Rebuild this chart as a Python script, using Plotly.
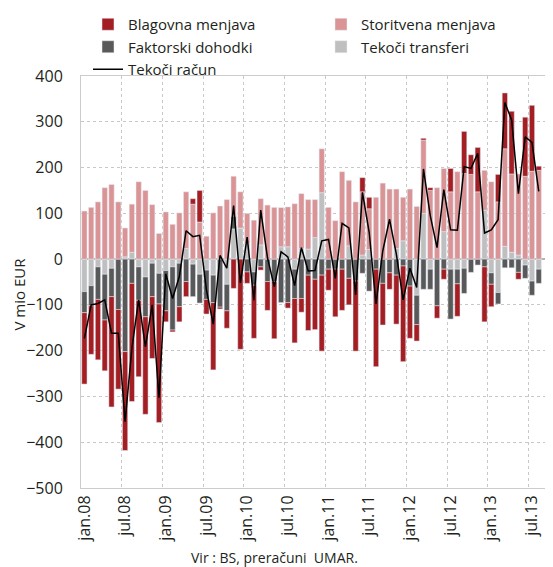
import plotly.graph_objects as go

month_names = ["jan", "feb", "mar", "apr", "maj", "jun", "jul", "avg", "sep", "okt", "nov", "dec"]
months = [f"{m}.{y:02d}" for y in range(8, 14) for m in month_names][:68]

tick_labels = ["jan.08", "jul.08", "jan.09", "jul.09", "jan.10", "jul.10",
               "jan.11", "jul.11", "jan.12", "jul.12", "jan.13", "jul.13"]

blagovna = [-156, -106, -132, -111, -241, -174, -216, -258, -167, -213, -135, -259,
            -24, -4, -33, -33, 12, 69, -32, -147, -4, -38, -64, -197,
            -25, -116, -7, -63, -125, 0, -12, -97, -30, -121, -110, -166,
            -46, -104, -90, -58, -153, 31, 25, -213, -91, -36, -107, -209,
            -114, -36, 4, 6, -27, -22, 51, -71, 92, 43, 97, -120,
            -49, 60, 122, 137, -15, 129, 144, 9]

storitvena = [105, 113, 125, 156, 163, 125, 63, 105, 169, 150, 119, 56,
              103, 76, 101, 124, 120, 81, 50, 101, 116, 130, 87, 79,
              66, 85, 101, 118, 113, 86, 87, 121, 120, 108, 83, 96,
              113, 84, 191, 143, 125, 138, 89, 135, 166, 153, 130, 95,
              153, 115, 160, 150, 156, 138, 147, 191, 187, 185, 147, 87,
              169, 125, 213, 171, 177, 181, 192, 194]

faktorski = [-46, -44, -71, -100, -62, -110, -202, -53, -73, -87, -73, -67,
             -88, -138, -95, -49, -71, -63, -64, -60, -105, -58, 28, 0,
             -28, -29, -17, -49, -49, -95, -95, -64, -86, -35, -44, -35,
             -22, -22, -22, -42, -48, -31, -70, -22, -53, -30, -35, -15,
             -59, -64, -66, -44, -102, -22, -109, -32, -55, -29, -13, -17,
             -25, -25, -19, -19, -29, -29, -31, -31]

transferi = [-71, -58, -17, -33, -20, 0, 5, 15, -17, -39, -9, -31,
             -25, -17, -9, 23, -11, -33, -24, -35, 0, -55, 66, 68,
             34, -28, 31, 0, 0, 27, 27, -22, 23, 22, 47, 145,
             0, 0, 0, 29, 0, 9, 21, 0, 0, 0, 23, 40,
             0, -79, 100, -22, 0, 60, -22, -22, -20, 0, 0, 107,
             -30, -73, 28, 15, 9, -13, -48, -22]

tekoci_racun = [-173, -100, -97, -89, -162, -162, -355, -195, -89, -191, -100, -303,
                -32, -86, -38, 62, 49, 52, -68, -142, 8, -20, 117, -52,
                48, -90, 107, 3, -60, 16, 5, -58, 25, -26, -25, 40,
                43, -42, 78, 68, -78, 146, 58, -98, 18, 87, 11, -89,
                -20, -62, 197, 95, 25, 152, 64, 63, 202, 198, 231, 57,
                64, 86, 342, 304, 143, 267, 255, 148]

x = list(range(len(months)))
tick_pos = [x[i] for i in range(0, len(x), 6)]
grid_pos = [p + 5.5 for p in tick_pos]

FONT = "Open Sans"
TXT = "#231f20"
FS = 16

# page body has an 8px default margin, so the figure is 8px smaller each way
W, H = 545, 559

fig = go.Figure()
fig.add_trace(go.Bar(x=x, y=transferi, name="Tekoči transferi", marker_color="#bfbfbf",
                     legend="legend2", legendrank=2, customdata=months))
fig.add_trace(go.Bar(x=x, y=faktorski, name="Faktorski dohodki", marker_color="#595959",
                     legend="legend", legendrank=2))
fig.add_trace(go.Bar(x=x, y=storitvena, name="Storitvena menjava", marker_color="#da9495",
                     legend="legend2", legendrank=1))
fig.add_trace(go.Bar(x=x, y=blagovna, name="Blagovna menjava", marker_color="#a31f24",
                     legend="legend", legendrank=1))
fig.add_trace(go.Scatter(x=x, y=tekoci_racun, name="Tekoči račun", mode="lines",
                         line=dict(color="black", width=1.5), legend="legend", legendrank=3))

legend_common = dict(font=dict(family=FONT, size=15, color=TXT), bgcolor="rgba(0,0,0,0)",
                     orientation="v", xanchor="left", yanchor="top", tracegroupgap=0,
                     itemwidth=30, xref="container", yref="container")

fig.update_layout(
    width=W, height=H,
    margin=dict(l=73, r=0, t=68, b=79, autoexpand=False),
    barmode="relative", bargap=0.22,
    plot_bgcolor="white", paper_bgcolor="white",
    font=dict(family=FONT, size=FS, color=TXT),
    legend=dict(x=80 / W, y=1.0, **legend_common),
    legend2=dict(x=313 / W, y=1.0, **legend_common),
    xaxis=dict(range=[-0.5, 69.1], tickmode="array", tickvals=tick_pos, ticktext=tick_labels,
               tickangle=-90, showgrid=False, zeroline=False, ticks="", automargin=False,
               showline=True, linecolor="#cccccc", linewidth=1, mirror=True,
               tickfont=dict(family=FONT, size=FS, color=TXT),
               minor=dict(tickmode="array", tickvals=grid_pos, showgrid=True,
                          gridcolor="#c8c8c8", griddash="dot", gridwidth=1, ticks="")),
    yaxis=dict(range=[-500, 400], dtick=100, showgrid=True, gridcolor="#c8c8c8",
               griddash="dot", gridwidth=1, zeroline=True, zerolinecolor="#b4b4b4",
               zerolinewidth=2, showline=True, linecolor="#cccccc", linewidth=1,
               ticks="", automargin=False, ticklabelstandoff=14,
               tickfont=dict(family=FONT, size=FS, color=TXT)),
    annotations=[
        dict(text="V mio EUR", textangle=-90, xref="paper", yref="paper",
             x=-0.131, y=0.47, xanchor="center", yanchor="middle", showarrow=False,
             font=dict(family=FONT, size=15, color=TXT)),
        dict(text="Vir : BS, preračuni \u00a0UMAR.", xref="paper", yref="paper",
             x=0.411, y=-0.168, xanchor="center", yanchor="middle", showarrow=False,
             font=dict(family=FONT, size=14, color=TXT)),
    ],
)

fig.write_html("out.html")
